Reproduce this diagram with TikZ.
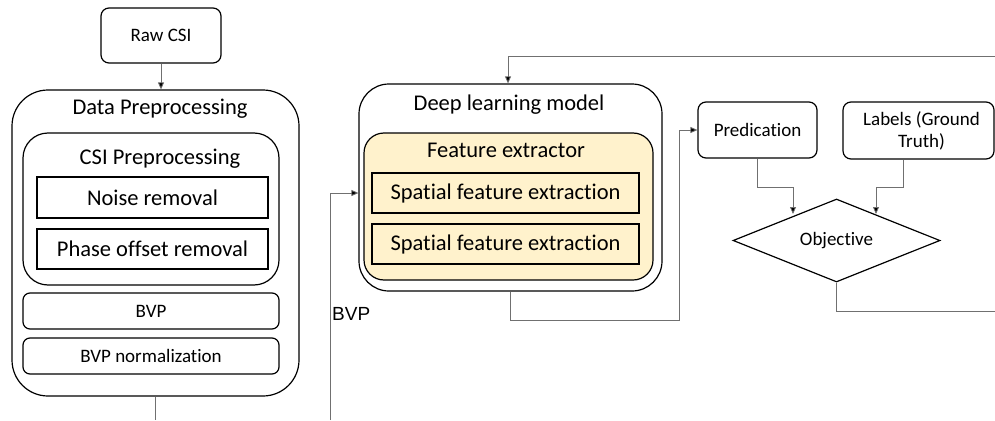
\documentclass[tikz,border=0pt]{standalone}
\usepackage{fontspec}
\setmainfont{Carlito}[Ligatures=NoCommon]
\newfontfamily\arialfont{Liberation Sans}
\usetikzlibrary{arrows.meta,shapes.geometric}
\definecolor{fextract}{HTML}{FFF2CC}
\definecolor{wire}{HTML}{707070}
\tikzset{
  box/.style={draw=black, line width=1.2pt, inner sep=0pt},
  conn/.style={draw=wire, line width=0.8pt},
  arr/.style={conn, -{Triangle[length=7pt,width=6pt,fill=black]}},
  big/.style={font=\fontsize{22.5}{26}\selectfont},
  small/.style={font=\fontsize{19}{22}\selectfont},
}
\begin{document}
\begin{tikzpicture}[x=1pt,y=-1pt]
\useasboundingbox (0,0) rectangle (995,420);
\clip (0,0) rectangle (995,420);

% --- input and preprocessing ---
\node[box, small, rounded corners=8pt, minimum width=120pt, minimum height=55pt] (raw) at (161,35.5) {Raw CSI};
\node[box, rounded corners=36pt, minimum width=287pt, minimum height=306pt] (prep) at (155.5,243) {};
\node[big] (preptitle) at (160,109) {Data Preprocessing};
\node[box, rounded corners=25pt, minimum width=256pt, minimum height=152pt] (csi) at (151,209) {};
\node[big] (csititle) at (160,159) {CSI Preprocessing};
\node[box, big, minimum width=231pt, minimum height=41pt] (noise) at (152.5,197.5) {Noise removal};
\node[box, big, minimum width=231pt, minimum height=40pt] (phase) at (152.5,249) {Phase offset removal};
\node[box, small, rounded corners=7pt, minimum width=256pt, minimum height=36pt] (bvp) at (151,311) {BVP};
\node[box, small, rounded corners=7pt, minimum width=256pt, minimum height=36pt] (bvpn) at (151,356) {BVP normalization};

% --- deep learning model ---
\node[box, rounded corners=30pt, minimum width=303pt, minimum height=207pt] (dl) at (510.5,187.5) {};
\node[big] (dltitle) at (509,105) {Deep learning model};
\node[box, fill=fextract, rounded corners=20pt, minimum width=289pt, minimum height=147pt] (fe) at (508.5,206.5) {};
\node[big] (fetitle) at (506,150) {Feature extractor};
\node[box, big, fill=fextract, minimum width=267pt, minimum height=40pt] (sp1) at (505.5,193) {Spatial feature extraction};
\node[box, big, fill=fextract, minimum width=267pt, minimum height=40pt] (sp2) at (505.5,244) {Spatial feature extraction};
\node[font=\arialfont\fontsize{19}{22}\selectfont, anchor=west, inner sep=0pt] (bvplabel) at (332,314) {BVP};

% --- prediction and objective ---
\node[box, small, rounded corners=8pt, minimum width=119pt, minimum height=56pt] (pred) at (757.5,130) {Predication};
\node[box, rounded corners=8pt, minimum width=151pt, minimum height=57pt] (labels) at (918.5,130.5) {};
\node[small, align=center] (labelstext) at (921.5,130.5) {Labels (Ground\\Truth)};
\node[diamond, box, small, aspect=2.5, minimum width=207pt, minimum height=83pt] (obj) at (836.5,240.5) {Objective};

% --- connectors ---
\coordinate (bvpin) at (330,420);
\coordinate (feedback) at (995,56);
\coordinate (lossout) at (995,311);
\draw[arr] (raw.south) -- (prep.north -| raw.south);
\draw[conn] (prep.south) -- (155.5,420);
\draw[arr] (bvpin) |- (dl.west |- sp1.center);
\draw[arr] (feedback) -| (dl.north -| 508,0);
\draw[arr] (dl.south) -- ++(0,29) -| (679,130) -- (pred.west);
\draw[arr] (pred.south) -- ++(0,29) -| (793,214);
\draw[arr] (labels.south -| 903,0) |- (876,187) -- (876,214);
\draw[conn] (obj.south) |- (lossout);
\end{tikzpicture}
\end{document}
